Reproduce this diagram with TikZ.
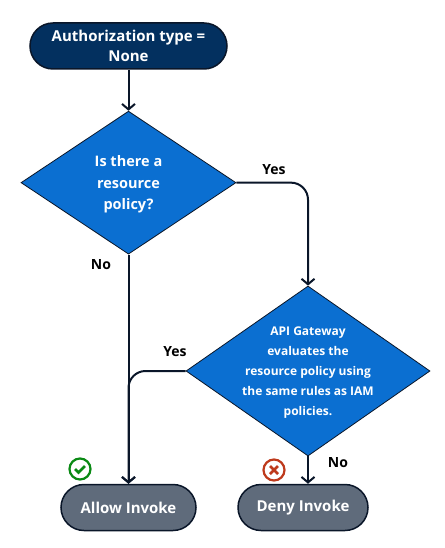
\documentclass[tikz,border=0pt]{standalone}
\usepackage{fontspec}
\setmainfont{Open Sans}
\usetikzlibrary{positioning,arrows.meta,calc,shapes.geometric}
\definecolor{cStart}{HTML}{03305F}
\definecolor{cEdge}{HTML}{0A1629}
\definecolor{cDecide}{HTML}{0B6FD1}
\definecolor{cEnd}{HTML}{5F6B7B}
\definecolor{cOk}{HTML}{0A8A14}
\definecolor{cBad}{HTML}{BE3A1C}
\tikzset{
  base/.style   ={draw=cEdge, align=center, text=white, font=\fontsize{15}{20}\selectfont\bfseries,
                  inner sep=0pt, line width=1.5pt},
  pill/.style   ={base, rounded corners=23pt, minimum height=46pt},
  startnode/.style={pill, fill=cStart, minimum width=197pt},
  endnode/.style ={pill, fill=cEnd},
  decide/.style ={base, diamond, aspect=1.5, fill=cDecide, line width=0.8pt},
  inner/.style  ={align=center, text=white, inner sep=0pt},
  arr/.style    ={-{Straight Barb[length=5.5pt,width=13pt,line width=2pt]}, draw=cEdge, line width=2pt},
  lbl/.style    ={font=\fontsize{14}{16}\selectfont\bfseries, text=black, inner sep=0pt},
  icon/.style   ={circle, draw, line width=2.2pt, fill=white, minimum size=21pt, inner sep=0pt},
  iconmark/.style={line width=2.6pt},
}
\begin{document}
\begin{tikzpicture}[x=1pt,y=1pt]
\useasboundingbox (0,0) rectangle (444,-548);
\node[startnode, text depth=0pt] (auth) at (128.5,-46) {Authorization type =\\ None};
\node[decide, below=41pt of auth, minimum width=215pt, minimum height=143pt] (policy) {};
\node[inner, font=\fontsize{14.5}{21.5}\selectfont\bfseries, yshift=-2pt] (policytext) at (policy)
   {Is there a\\ resource\\ policy?};
\node[decide, minimum width=244pt, minimum height=170pt] (gateway) at (308,-371) {};
\node[inner, font=\fontsize{12}{20}\selectfont\bfseries, yshift=-1.5pt] (gatewaytext) at (gateway)
   {API Gateway\\ evaluates the\\ resource policy using\\ the same rules as IAM\\ policies.};
\node[endnode, minimum width=135pt] (allow) at (128.5,-507.5) {Allow Invoke};
\node[endnode, minimum width=130pt] (deny) at (303,-507.5) {Deny Invoke};

\node[lbl] (yesa) at (274,-170) {Yes};
\node[lbl] (noa) at (101,-265) {No};
\node[lbl] (yesb) at (175,-352) {Yes};
\node[lbl] (nob) at (338,-463) {No};

\node[icon, draw=cOk] (okicon) at (80,-469) {};
\node[icon, draw=cBad] (badicon) at (274,-470) {};
\draw[iconmark, cOk] ($(okicon)+(-5,0)$) -- ($(okicon)+(-1.5,-3.5)$) -- ($(okicon)+(5,3)$);
\draw[iconmark, cBad] ($(badicon)+(-4,4)$) -- ($(badicon)+(4,-4)$);
\draw[iconmark, cBad] ($(badicon)+(-4,-4)$) -- ($(badicon)+(4,4)$);

\draw[arr] (auth)--(policy);
\draw[arr] (policy.south)--(allow);
\draw[arr, rounded corners=17pt] (policy.east) -| (gateway.north);
\draw[arr] (gateway.south)--(gateway.south |- deny.north);
\draw[arr, rounded corners=17pt] (gateway.west) -| (allow.north);
\end{tikzpicture}
\end{document}
